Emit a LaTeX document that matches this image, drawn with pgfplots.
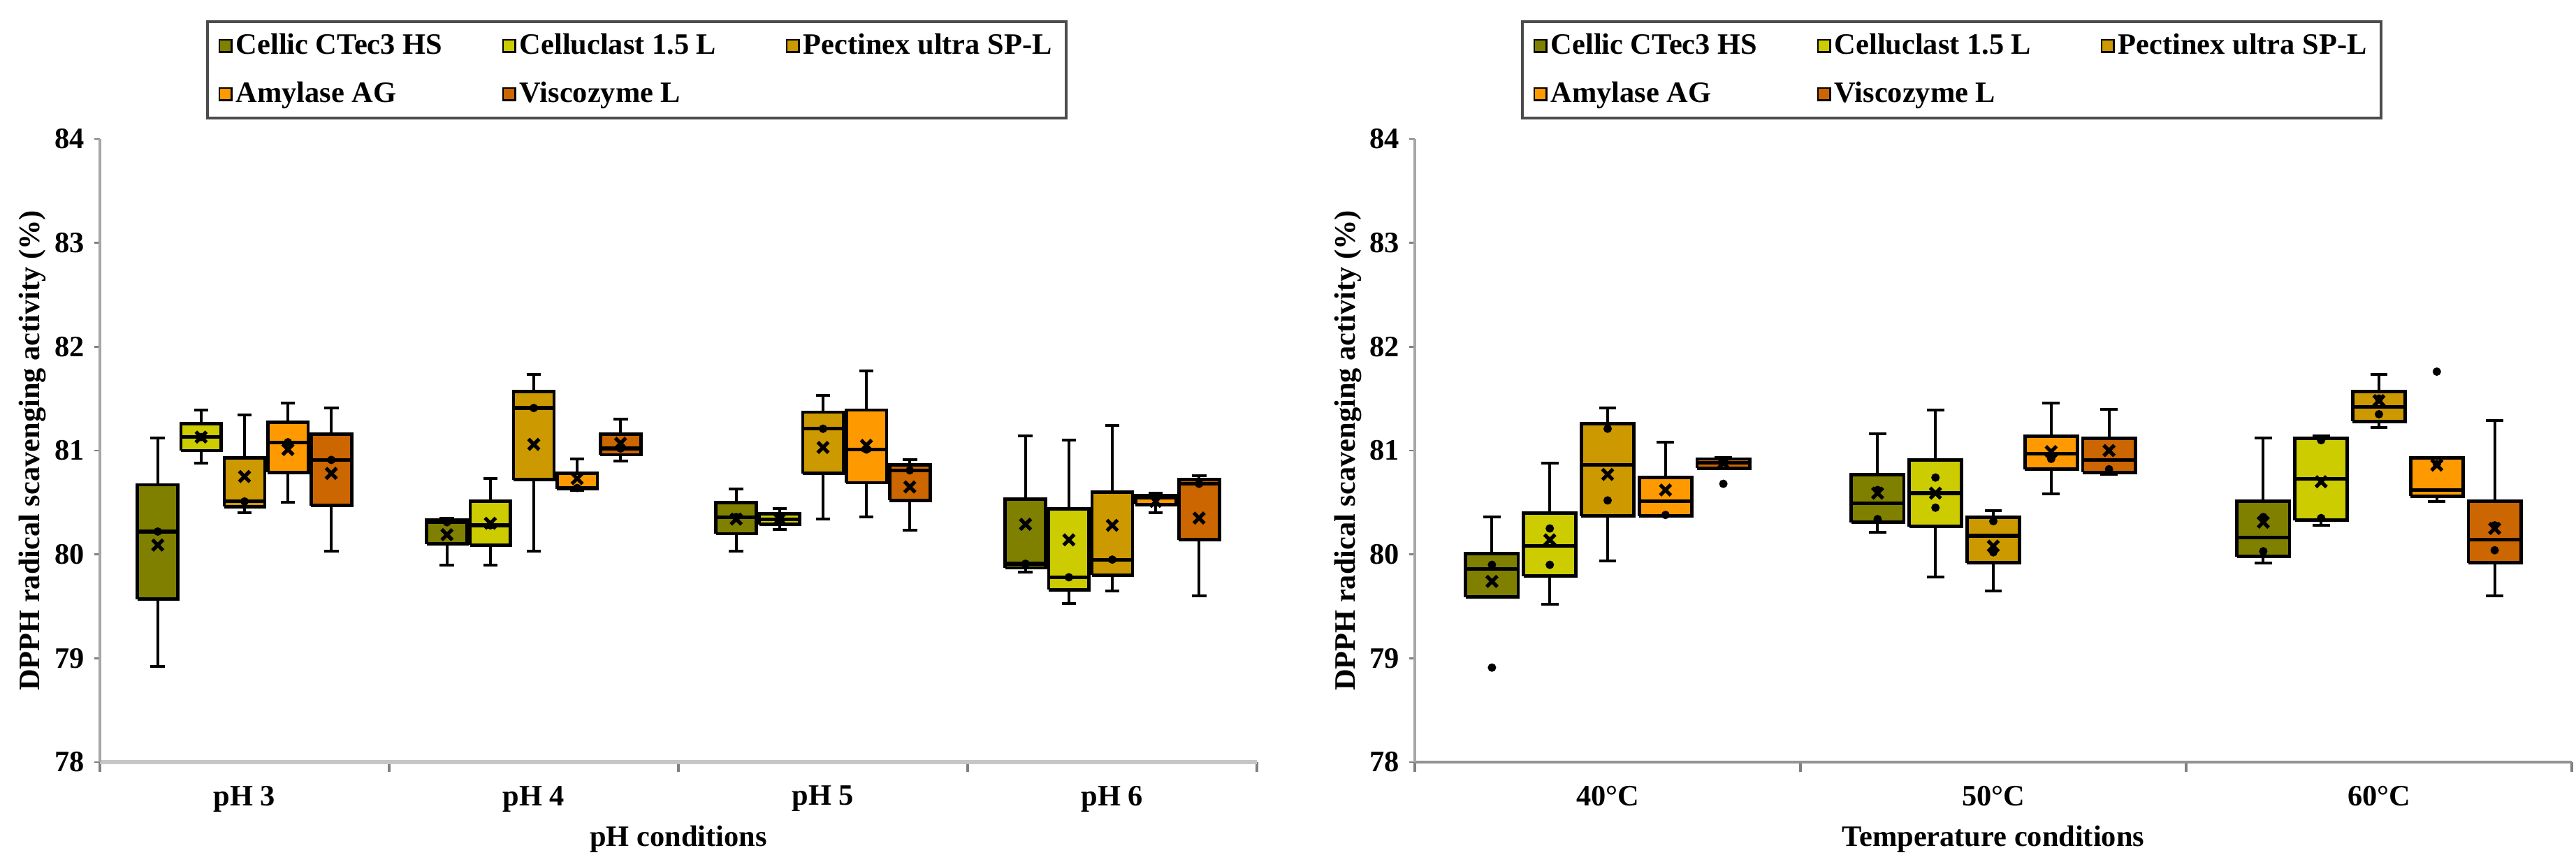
\documentclass[border=0pt]{standalone}
\usepackage{fontspec}
\setmainfont{Liberation Serif}
\usepackage{pgfplots}
\pgfplotsset{compat=1.18}
\definecolor{cellic}{RGB}{128,128,0}
\definecolor{celluclast}{RGB}{204,204,0}
\definecolor{pectinex}{RGB}{204,153,0}
\definecolor{amylase}{RGB}{255,153,0}
\definecolor{visco}{RGB}{204,102,0}
\newcommand{\fs}{\fontsize{10.6}{12.7}\selectfont\bfseries}
\pgfplotsset{
  wsk/.style={forget plot, draw=black, line width=1pt},
  boxst/.style={forget plot, draw=black, line width=1.2pt},
  medst/.style={forget plot, draw=black, line width=1.3pt},
  meanst/.style={forget plot, only marks, mark=x, mark size=2.7pt, draw=black, mark options={line width=1.3pt}},
  ptst/.style={forget plot, only marks, mark=*, mark size=1.3pt, draw=black, fill=black},
  panel/.style={
    scale only axis, width=414pt, height=223pt,
    ymin=78, ymax=84, ytick={78,79,...,84},
    axis lines*=left,
    tick align=outside,
    major tick length=2pt, minor tick length=3.5pt,
    major x tick style={draw=none},
    minor x tick style={draw=gray, line width=0.8pt},
    major y tick style={draw=gray, line width=0.6pt},
    y axis line style={draw=gray!70, line width=0.8pt},
    /pgf/number format/assume math mode=true,
    ticklabel style={font=\fs},
    xticklabel style={yshift=-3pt},
    label style={font=\fs},
    ylabel={DPPH radical scavenging activity (\%)},
    ylabel style={at={(axis description cs:-0.058,0.5)}, anchor=center},
    xlabel style={at={(axis description cs:0.5,0)}, yshift=-27.5pt, anchor=center},
    legend columns=3,
    legend cell align=left,
    legend image code/.code={\draw[#1, draw=black, line width=0.7pt] (0pt,-2.2pt) rectangle (4.4pt,2.2pt);},
    legend style={at={(0.464,1.031)}, anchor=south, draw=gray!60!black, line width=1pt,
       font=\fs, inner xsep=4pt, inner ysep=3pt, row sep=6pt,
       nodes={inner sep=1.2pt},
       /tikz/every even column/.append style={column sep=3pt}},
  }
}
\newcommand{\bxw}{0.07}
\newcommand{\bxc}{0.025}
% #1 colour, #2 position, #3 lower whisker, #4 Q1, #5 median, #6 Q3, #7 upper whisker, #8 mean, #9 points
\newcommand{\bx}[9]{%
 \pgfmathsetmacro\bxL{#2-\bxw}\pgfmathsetmacro\bxR{#2+\bxw}%
 \pgfmathsetmacro\bxCL{#2-\bxc}\pgfmathsetmacro\bxCR{#2+\bxc}%
 \edef\bxdo{%
 \noexpand\addplot[wsk] coordinates {(#2,#3) (#2,#4)};%
 \noexpand\addplot[wsk] coordinates {(#2,#6) (#2,#7)};%
 \noexpand\addplot[wsk] coordinates {(\bxCL,#3) (\bxCR,#3)};%
 \noexpand\addplot[wsk] coordinates {(\bxCL,#7) (\bxCR,#7)};%
 \noexpand\addplot[boxst, fill=#1] coordinates {(\bxL,#4) (\bxR,#4) (\bxR,#6) (\bxL,#6) (\bxL,#4)};%
 \noexpand\addplot[medst] coordinates {(\bxL,#5) (\bxR,#5)};%
 \noexpand\addplot[ptst] coordinates {#9};%
 \noexpand\addplot[meanst] coordinates {(#2,#8)};%
 }\bxdo}
\newcommand{\legs}{%
\addlegendimage{fill=cellic}\addlegendentry{\makebox[91pt][l]{Cellic CTec3 HS}}
\addlegendimage{fill=celluclast}\addlegendentry{\makebox[91pt][l]{Celluclast 1.5 L}}
\addlegendimage{fill=pectinex}\addlegendentry{Pectinex ultra SP-L}
\addlegendimage{fill=amylase}\addlegendentry{\makebox[91pt][l]{Amylase AG}}
\addlegendimage{fill=visco}\addlegendentry{\makebox[91pt][l]{Viscozyme L}}
}
\begin{document}
\begin{tikzpicture}
\useasboundingbox (0,0) rectangle (921.75pt,308.25pt);
% ---------------- left: pH ----------------
\begin{axis}[panel, at={(35.75pt,35.5pt)}, anchor=south west,
  xmin=-0.5, xmax=3.5,
  xtick={0,1,2,3}, xticklabels={pH 3,pH 4,pH 5,pH 6},
  minor xtick={-0.5,0.5,1.5,2.5,3.5},
  x axis line style={draw=gray!45, line width=1.6pt},
  xlabel={pH conditions}]
\legs
% pH 3
\bx{cellic}{-0.30}{78.92}{79.57}{80.22}{80.67}{81.12}{80.09}{(-0.30,80.22)}
\bx{celluclast}{-0.15}{80.88}{81.00}{81.13}{81.26}{81.39}{81.13}{(-0.15,81.13)}
\bx{pectinex}{0.00}{80.40}{80.46}{80.51}{80.93}{81.34}{80.75}{(0.00,80.51)}
\bx{amylase}{0.15}{80.50}{80.79}{81.08}{81.27}{81.46}{81.01}{(0.15,81.08)}
\bx{visco}{0.30}{80.03}{80.47}{80.91}{81.16}{81.41}{80.78}{(0.30,80.91)}
% pH 4
\bx{cellic}{0.70}{79.90}{80.10}{80.31}{80.33}{80.35}{80.19}{(0.70,80.31)}
\bx{celluclast}{0.85}{79.90}{80.09}{80.28}{80.51}{80.73}{80.30}{(0.85,80.28)}
\bx{pectinex}{1.00}{80.03}{80.72}{81.41}{81.57}{81.73}{81.06}{(1.00,81.41)}
\bx{amylase}{1.15}{80.62}{80.63}{80.64}{80.78}{80.92}{80.73}{(1.15,80.64)}
\bx{visco}{1.30}{80.90}{80.96}{81.02}{81.16}{81.30}{81.07}{(1.30,81.02)}
% pH 5
\bx{cellic}{1.70}{80.03}{80.20}{80.36}{80.50}{80.63}{80.34}{(1.70,80.36)}
\bx{celluclast}{1.85}{80.24}{80.29}{80.34}{80.39}{80.44}{80.34}{(1.85,80.34)}
\bx{pectinex}{2.00}{80.34}{80.78}{81.21}{81.37}{81.53}{81.03}{(2.00,81.21)}
\bx{amylase}{2.15}{80.36}{80.69}{81.01}{81.39}{81.77}{81.05}{(2.15,81.01)}
\bx{visco}{2.30}{80.23}{80.52}{80.81}{80.86}{80.91}{80.65}{(2.30,80.81)}
% pH 6
\bx{cellic}{2.70}{79.83}{79.87}{79.91}{80.53}{81.14}{80.29}{(2.70,79.91)}
\bx{celluclast}{2.85}{79.53}{79.66}{79.78}{80.44}{81.10}{80.14}{(2.85,79.78)}
\bx{pectinex}{3.00}{79.65}{79.80}{79.95}{80.60}{81.24}{80.28}{(3.00,79.95)}
\bx{amylase}{3.15}{80.40}{80.48}{80.55}{80.57}{80.59}{80.51}{(3.15,80.55)}
\bx{visco}{3.30}{79.60}{80.14}{80.68}{80.72}{80.76}{80.35}{(3.30,80.68)}
\end{axis}
% ---------------- right: temperature ----------------
\renewcommand{\bxw}{0.068}
\renewcommand{\bxc}{0.0225}
\begin{axis}[panel, at={(506.25pt,35.5pt)}, anchor=south west,
  xmin=-0.5, xmax=2.5,
  xtick={0,1,2}, xticklabels={40°C,50°C,60°C},
  minor xtick={-0.5,0.5,1.5,2.5},
  x axis line style={draw=gray!85, line width=0.9pt},
  xlabel={Temperature conditions}]
\legs
% 40 C
\bx{cellic}{-0.30}{79.59}{79.59}{79.86}{80.01}{80.36}{79.74}{(-0.30,78.91) (-0.30,79.90)}
\bx{celluclast}{-0.15}{79.52}{79.79}{80.08}{80.40}{80.88}{80.14}{(-0.15,80.25) (-0.15,79.90)}
\bx{pectinex}{0.00}{79.94}{80.37}{80.86}{81.26}{81.41}{80.77}{(0.00,81.21) (0.00,80.52)}
\bx{amylase}{0.15}{80.37}{80.37}{80.51}{80.74}{81.08}{80.62}{(0.15,80.38)}
\bx{visco}{0.30}{80.83}{80.83}{80.88}{80.92}{80.93}{80.88}{(0.30,80.68)}
% 50 C
\bx{cellic}{0.70}{80.21}{80.31}{80.49}{80.77}{81.16}{80.59}{(0.70,80.62) (0.70,80.34)}
\bx{celluclast}{0.85}{79.78}{80.27}{80.59}{80.91}{81.39}{80.59}{(0.85,80.74) (0.85,80.45)}
\bx{pectinex}{1.00}{79.65}{79.92}{80.18}{80.36}{80.42}{80.08}{(1.00,80.32) (1.00,80.02)}
\bx{amylase}{1.15}{80.58}{80.82}{80.97}{81.14}{81.46}{80.99}{(1.15,80.92)}
\bx{visco}{1.30}{80.77}{80.79}{80.91}{81.12}{81.40}{81.00}{(1.30,80.82)}
% 60 C
\bx{cellic}{1.70}{79.92}{79.98}{80.16}{80.51}{81.12}{80.31}{(1.70,80.36) (1.70,80.03)}
\bx{celluclast}{1.85}{80.28}{80.33}{80.73}{81.12}{81.14}{80.70}{(1.85,81.10) (1.85,80.35)}
\bx{pectinex}{2.00}{81.22}{81.28}{81.42}{81.57}{81.73}{81.48}{(2.00,81.50) (2.00,81.35)}
\bx{amylase}{2.15}{80.51}{80.56}{80.62}{80.93}{80.93}{80.86}{(2.15,81.76) (2.15,80.87)}
\bx{visco}{2.30}{79.60}{79.92}{80.14}{80.51}{81.29}{80.25}{(2.30,80.04) (2.30,80.28)}
\end{axis}
\end{tikzpicture}
\end{document}
